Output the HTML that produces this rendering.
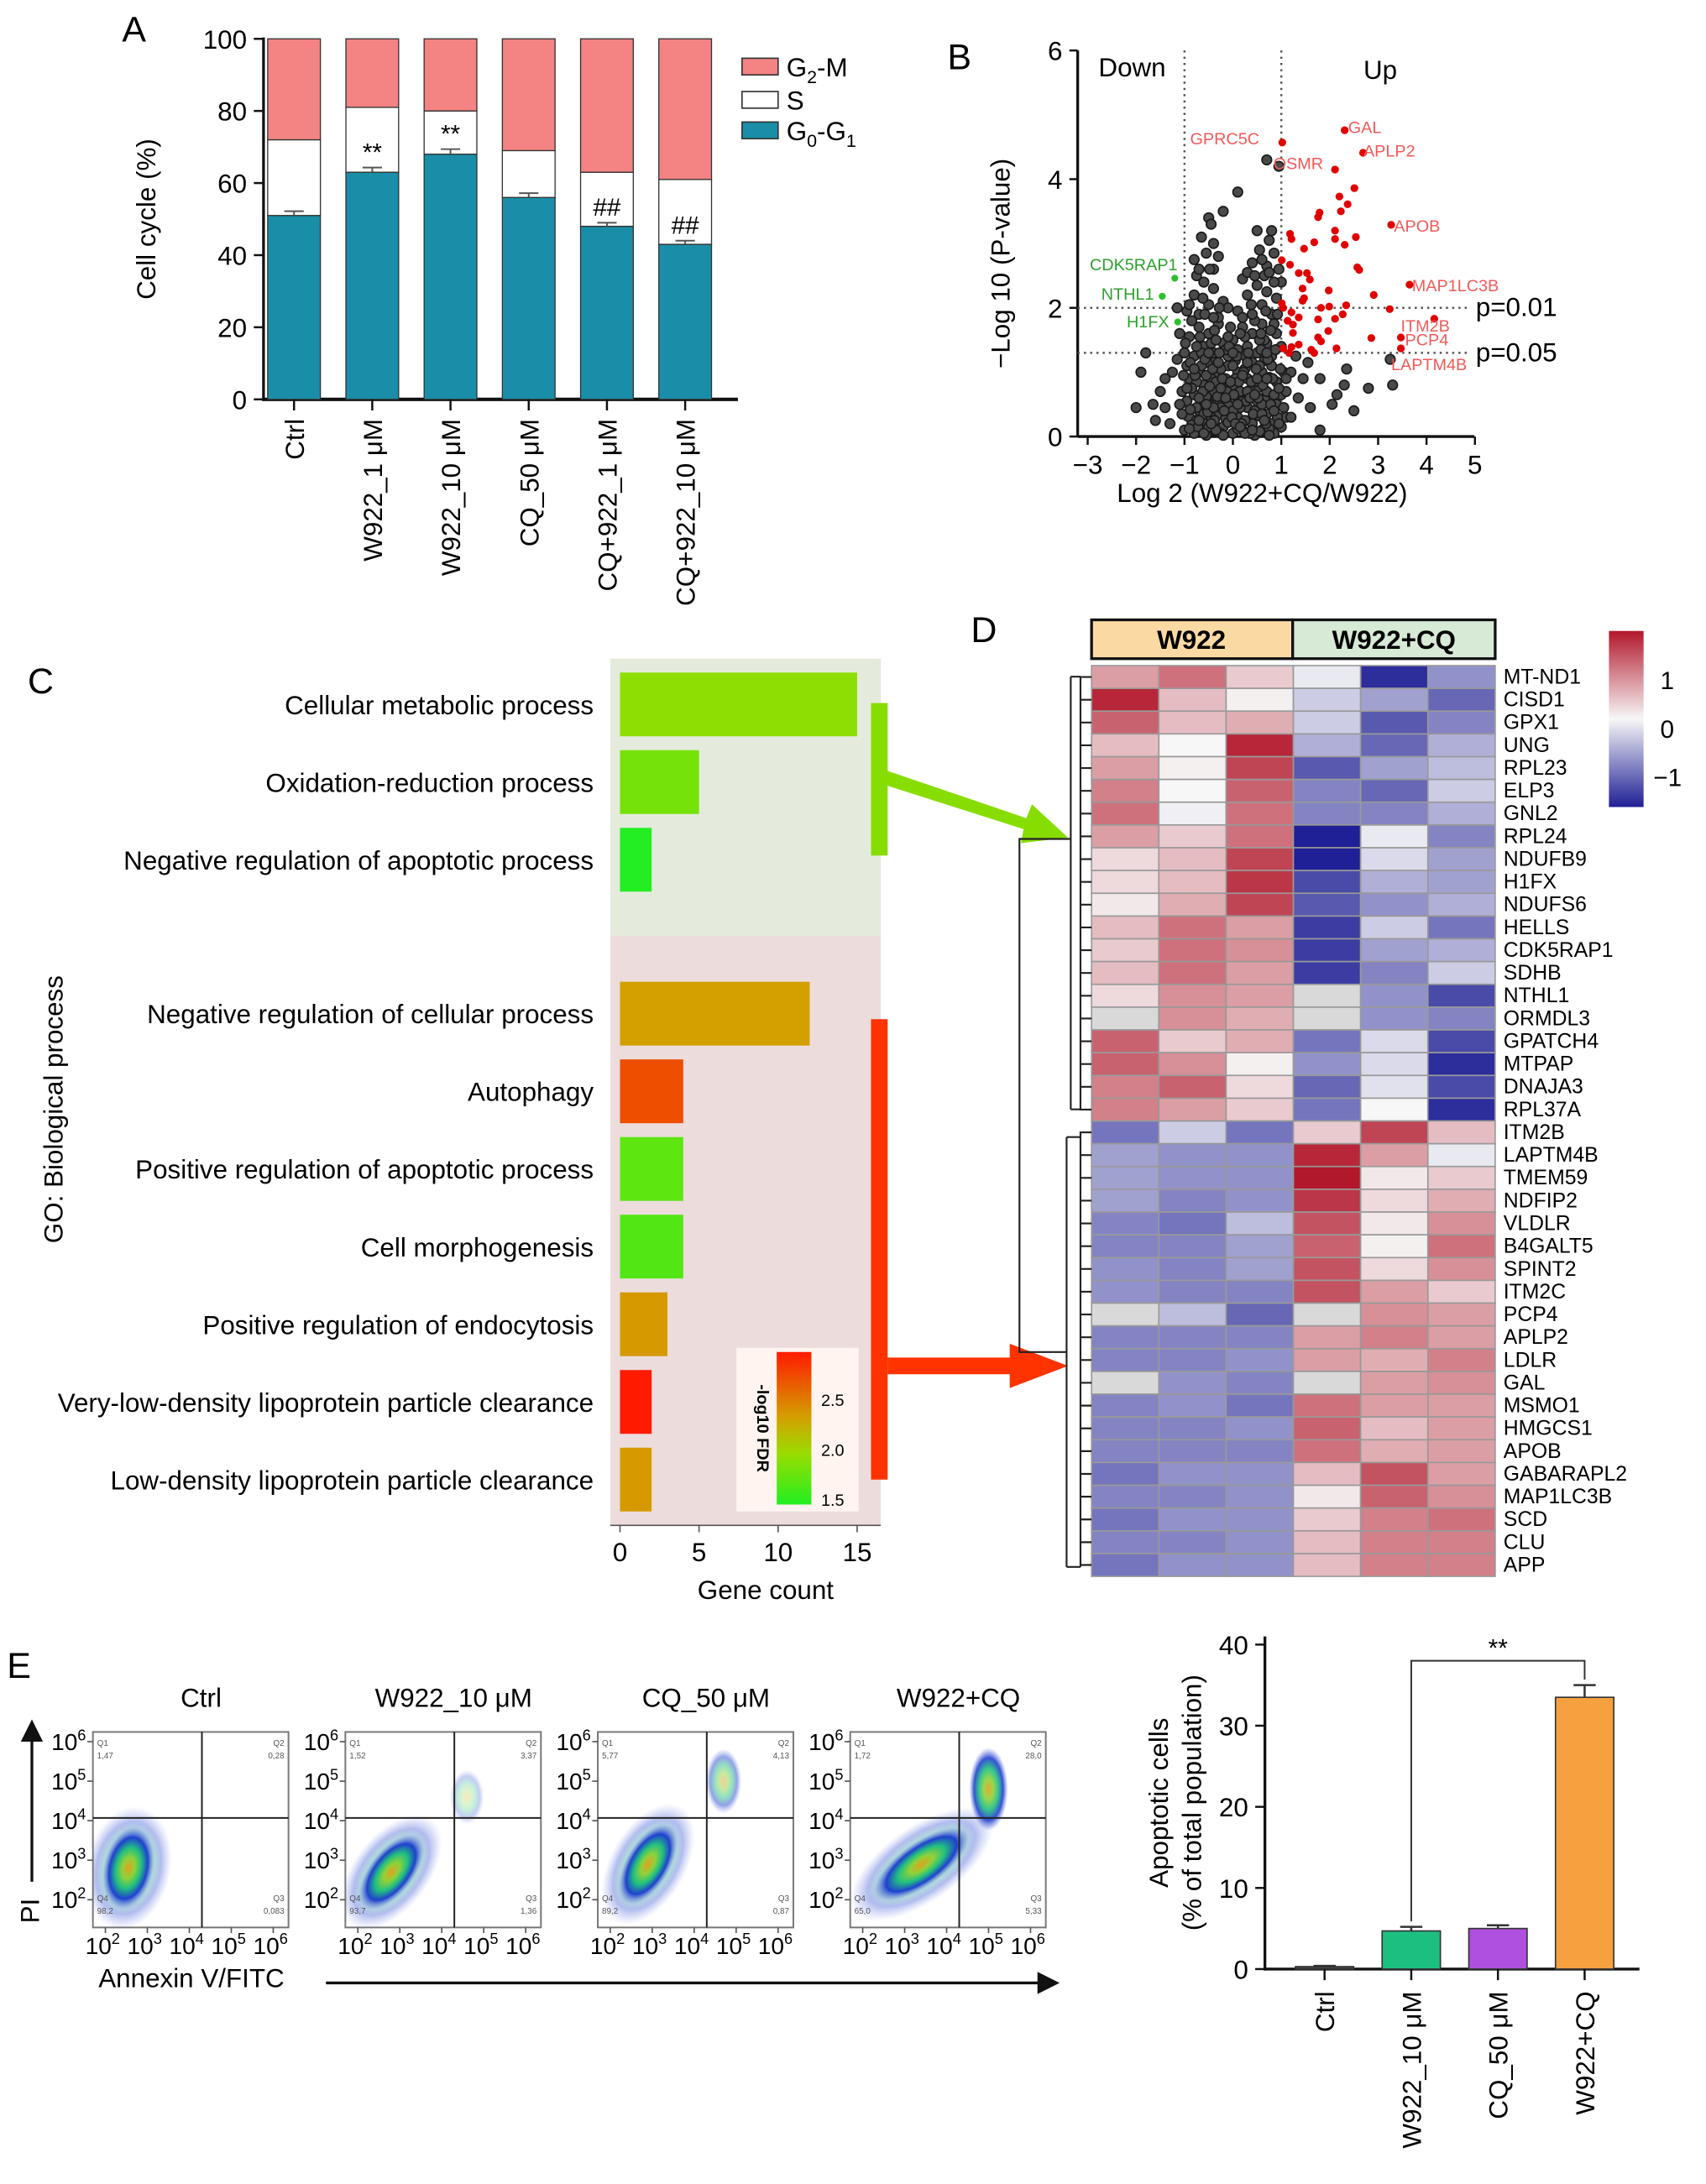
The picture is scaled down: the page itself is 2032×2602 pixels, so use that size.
<!DOCTYPE html>
<html><head><meta charset="utf-8"><style>
html,body{margin:0;padding:0;background:#fff;}
svg{display:block;font-family:"Liberation Sans",Arial,sans-serif;}
</style></head><body>
<svg id="fig" width="2032" height="2602" viewBox="0 0 1230 1575" preserveAspectRatio="none" xmlns="http://www.w3.org/2000/svg">
<defs>
<linearGradient id="fdr" x1="0" y1="1" x2="0" y2="0"><stop offset="0" stop-color="#22ee22"/><stop offset="0.33" stop-color="#99dd00"/><stop offset="0.57" stop-color="#d4a000"/><stop offset="1" stop-color="#ff1a00"/></linearGradient>
<linearGradient id="hmbar" x1="0" y1="0" x2="0" y2="1"><stop offset="0" stop-color="#b2182b"/><stop offset="0.5" stop-color="#f7f7f7"/><stop offset="1" stop-color="#1f1f96"/></linearGradient>
<radialGradient id="dens"><stop offset="0" stop-color="#e0a020"/><stop offset="0.25" stop-color="#8fd23a"/><stop offset="0.5" stop-color="#20c080"/><stop offset="0.75" stop-color="#2040d0"/><stop offset="1" stop-color="#6070e0" stop-opacity="0"/></radialGradient>
<marker id="ah" markerWidth="8" markerHeight="8" refX="6" refY="4" orient="auto"><path d="M0,0 L8,4 L0,8 z" fill="#111"/></marker>
</defs>
<g id="root"></g>
</svg>
<script>
// ---------- DATA ----------
const cycleGroups=["Ctrl","W922_1 μM","W922_10 μM","CQ_50 μM","CQ+922_1 μM","CQ+922_10 μM"];
const g0g1=[51,63,68,56,48,43];
const sTop=[72,81,80,69,63,61];
const g0g1Err=[1.2,1.3,1.4,1.2,1.0,1.0];
const cycleMarks=["","**","**","","##","##"];

const greyPts=[[-1,0.1],[-0.9,0.3],[-0.8,0.05],[-0.7,0.4],[-0.6,0.2],[-0.5,0.5],[-0.4,0.1],[-0.3,0.35],[-0.2,0.15],[-0.1,0.5],[0,0.05],[0.1,0.3],[0.2,0.1],[0.3,0.45],[0.4,0.2],[0.5,0.55],[0.6,0.1],[0.7,0.35],[0.8,0.2],[0.9,0.5],[1.0,0.15],[1.1,0.3],
[-0.95,0.55],[-0.75,0.25],[-0.55,0.02],[-0.35,0.6],[-0.15,0.28],[0.05,0.58],[0.25,0.25],[0.45,0.02],[0.65,0.6],[0.85,0.05],[-0.65,0.55],[-0.45,0.3],[-0.25,0.05],[0.15,0.45],[0.35,0.05],[0.55,0.32],[0.75,0.12],[-0.85,0.18],
[-1.05,0.7],[-0.9,0.9],[-0.8,0.65],[-0.7,1.0],[-0.6,0.8],[-0.5,1.15],[-0.4,0.7],[-0.3,0.95],[-0.2,0.75],[-0.1,1.1],[0,0.8],[0.1,1.0],[0.2,0.65],[0.3,0.9],[0.4,1.15],[0.5,0.75],[0.6,1.0],[0.7,0.7],[0.8,1.1],[0.9,0.85],[1.0,0.65],[1.05,1.0],
[-0.95,1.1],[-0.75,0.85],[-0.55,0.62],[-0.35,1.2],[-0.15,0.9],[0.05,1.18],[0.25,1.05],[0.45,0.85],[0.65,1.18],[0.85,0.65],[-0.65,1.1],[-0.45,0.9],[-0.25,1.05],[0.15,0.7],[0.35,0.72],[0.55,1.1],[0.75,0.92],[-0.85,0.75],
[-1.0,1.3],[-0.9,1.55],[-0.8,1.25],[-0.7,1.7],[-0.6,1.4],[-0.5,1.6],[-0.4,1.3],[-0.3,1.75],[-0.2,1.45],[-0.1,1.25],[0,1.5],[0.1,1.35],[0.2,1.7],[0.3,1.4],[0.4,1.6],[0.5,1.3],[0.6,1.75],[0.7,1.45],[0.8,1.25],[0.9,1.6],[1.0,1.4],[-0.85,1.8],[-0.65,1.3],[-0.45,1.45],[0.45,1.8],[0.65,1.5],[0.85,1.75],[-0.05,1.7],[0.25,1.55],[-0.35,1.5],
[-0.95,1.95],[-0.8,2.2],[-0.7,1.9],[-0.6,2.4],[-0.5,2.05],[-0.4,2.3],[-0.3,1.85],[-0.2,2.1],[0.1,1.95],[0.3,2.2],[0.4,1.9],[0.5,2.35],[0.6,2.05],[0.7,2.25],[0.8,1.9],[0.9,2.15],[1.0,2.4],[-0.75,2.5],[0.65,2.5],[-0.1,2.0],[0.2,2.45],[0.85,2.4],
[-0.7,2.6],[-0.55,2.85],[-0.4,2.6],[-0.65,3.1],[-0.4,3.0],[0.4,2.7],[0.55,2.9],[0.7,2.65],[0.85,2.85],[0.5,3.2],[0.8,3.2],[0.3,2.55],[-0.3,2.8],[0.95,2.6],[0.75,3.05],[-0.8,2.75],
[-0.5,3.4],[-0.2,3.5],[0.1,3.8],[0.7,4.3],[0.95,4.2],[-0.45,3.3],
[-1.8,1.3],[-1.9,1.0],[-2.0,0.45],[-1.65,0.5],[-1.4,0.45],[-1.3,0.2],[-1.5,0.7],[-1.25,1.0],[-1.1,1.6],[-1.15,2.0],[-1.4,0.9],[-1.6,0.25],
[1.2,1.0],[1.45,0.9],[1.8,0.9],[2.05,0.5],[2.3,0.8],[2.35,1.05],[2.5,0.4],[1.6,0.45],[2.8,0.75],[3.25,1.2],[3.3,0.8],[1.8,0.1],[2.15,0.65],[1.35,0.6],[1.1,0.7],[1.2,0.3],[1.55,1.15],[1.3,1.25],
[-0.6,0.35],[-0.3,0.55],[0.0,0.4],[0.2,0.55],[-0.1,0.22],[-0.5,0.15],[0.45,0.4],[-0.2,0.62],[0.1,0.12],[-0.75,0.45],[0.3,0.7],[-0.35,0.85],[0.05,0.9],[0.6,0.5],[-0.55,0.95],[0.25,1.25],[-0.15,1.35],[0.55,1.5],[0.0,1.1],[-0.25,0.45],
[-1.05,0.35],[-0.95,0.75],[-0.88,0.42],[-0.78,0.95],[-0.72,0.15],[-0.62,0.7],[-0.58,1.2],[-0.52,0.38],[-0.48,0.78],[-0.42,1.05],[-0.38,0.25],[-0.32,0.62],[-0.28,1.3],[-0.22,0.9],[-0.18,0.4],[-0.12,0.7],[-0.08,1.4],[-0.02,0.3],[0.02,0.65],[0.08,1.25],[0.12,0.85],[0.18,0.2],[0.22,1.0],[0.28,0.55],[0.32,1.3],[0.38,0.85],[0.42,0.35],[0.48,1.05],[0.52,0.6],[0.58,1.35],[0.62,0.8],[0.68,0.2],[0.72,1.2],[0.78,0.5],[0.82,0.9],[0.88,1.35],[0.92,0.3],[0.98,1.05],[-0.98,1.45],[-0.88,1.15],[-0.68,1.55],[-0.58,1.9],[-0.38,1.65],[-0.28,2.0],[0.38,2.05],[0.58,1.6],[0.78,1.65],[0.92,1.9],[0.68,1.95],[-0.9,2.05],[-0.62,2.15],[0.75,2.55],[-0.48,2.6],[0.6,2.75],[-1.1,0.5],[-1.15,1.2],[-0.7,0.25],[-0.4,0.45],[-0.15,0.6],[0.1,0.5],[0.35,0.6],[0.6,0.35],[0.85,0.4],[-0.55,0.5],[-0.05,0.85],[0.2,0.95],[0.45,0.65],[0.7,0.9],[-0.8,1.05],[-0.3,1.15],[0.0,1.3],[0.3,1.15],[-0.6,0.05],[-0.2,0.02],[0.25,0.05],[0.55,0.08],[0.95,0.2],[-0.35,0.1],[0.05,0.2],[0.4,0.1],[-0.9,0.12],[0.75,0.02],[-0.45,0.2],[0.15,0.15],[0.65,0.25],[-0.7,0.6],[-0.25,0.75],[0.5,0.9],[-0.1,1.55],[0.15,1.6],[0.7,1.3],[-0.75,1.4],[-0.5,1.3],[0.95,0.75],[1.05,0.45],[1.1,0.9],[-1.02,0.95],[-0.4,1.85],[0.2,1.85],[0.45,2.5]];
const redPts=[[1.02,4.57],[2.31,4.76],[2.69,4.41],[2.11,4.15],[2.51,3.86],[2.20,3.73],[2.37,3.61],[1.79,3.48],[2.23,3.50],[1.76,3.41],[3.27,3.29],[1.18,3.15],[2.11,3.20],[2.11,3.07],[2.54,3.10],[1.21,3.07],[1.68,3.02],[2.31,2.98],[1.47,2.92],[1.01,2.74],[1.18,2.67],[2.57,2.63],[2.61,2.59],[1.36,2.54],[1.53,2.54],[1.59,2.44],[3.65,2.36],[1.44,2.30],[1.98,2.27],[2.91,2.20],[1.47,2.15],[1.44,2.11],[1.01,2.07],[1.04,2.0],[1.82,2.0],[1.99,2.02],[2.34,2.04],[3.24,1.98],[1.21,1.93],[1.36,1.85],[1.13,1.80],[1.76,1.82],[2.11,1.83],[2.27,1.90],[4.16,1.83],[1.24,1.74],[1.97,1.64],[1.24,1.61],[3.47,1.54],[2.86,1.53],[1.76,1.54],[1.82,1.48],[1.04,1.37],[1.21,1.39],[1.36,1.43],[1.62,1.35],[2.14,1.37],[3.47,1.37],[1.16,1.30],[1.68,1.30]];
const greenPts=[[-1.2,2.46],[-1.46,2.18],[-1.14,1.78]];
const redLabels=["GPRC5C","GAL","APLP2","OSMR","APOB","MAP1LC3B","ITM2B","PCP4","LAPTM4B"];
const greenLabels=["CDK5RAP1","NTHL1","H1FX"];

const goTerms=["Cellular metabolic process","Oxidation-reduction process","Negative regulation of apoptotic process","Negative regulation of cellular process","Autophagy","Positive regulation of apoptotic process","Cell morphogenesis","Positive regulation of endocytosis","Very-low-density lipoprotein particle clearance","Low-density lipoprotein particle clearance"];
const goCounts=[15,5,2,12,4,4,4,3,2,2];
const goFDR=[1.95,1.85,1.5,2.35,2.75,1.75,1.7,2.38,3.0,2.38];

const hmGenes=["MT-ND1","CISD1","GPX1","UNG","RPL23","ELP3","GNL2","RPL24","NDUFB9","H1FX","NDUFS6","HELLS","CDK5RAP1","SDHB","NTHL1","ORMDL3","GPATCH4","MTPAP","DNAJA3","RPL37A","ITM2B","LAPTM4B","TMEM59","NDFIP2","VLDLR","B4GALT5","SPINT2","ITM2C","PCP4","APLP2","LDLR","GAL","MSMO1","HMGCS1","APOB","GABARAPL2","MAP1LC3B","SCD","CLU","APP"];
const hmValues=[[0.6,0.9,0.3,-0.1,-1.4,-0.7],[1.4,0.4,0.05,-0.3,-0.6,-1.0],[1.0,0.4,0.5,-0.3,-1.1,-0.8],[0.4,0.0,1.4,-0.5,-1.0,-0.5],[0.6,0.05,1.2,-1.1,-0.6,-0.4],[0.8,0.0,1.0,-0.8,-1.0,-0.3],[0.9,-0.05,0.9,-0.8,-0.8,-0.5],[0.6,0.3,0.9,-1.5,-0.1,-0.8],[0.2,0.4,1.2,-1.5,-0.2,-0.6],[0.2,0.4,1.3,-1.2,-0.5,-0.6],[0.1,0.5,1.2,-1.1,-0.7,-0.5],[0.4,0.9,0.6,-1.3,-0.3,-0.9],[0.3,0.9,0.7,-1.3,-0.6,-0.5],[0.4,0.9,0.6,-1.3,-0.8,-0.3],[0.2,0.7,0.6,null,-0.7,-1.2],[null,0.7,0.5,null,-0.7,-0.8],[1.0,0.3,0.5,-0.9,-0.2,-1.2],[1.0,0.7,0.05,-0.7,-0.2,-1.4],[0.8,1.0,0.2,-1.0,-0.15,-1.2],[0.8,0.6,0.3,-0.9,0.0,-1.4],
[-0.9,-0.3,-0.9,0.3,1.2,0.4],[-0.6,-0.7,-0.7,1.4,0.6,-0.1],[-0.6,-0.7,-0.7,1.5,0.1,0.3],[-0.6,-0.8,-0.7,1.3,0.2,0.5],[-0.8,-0.9,-0.4,1.1,0.1,0.7],[-0.8,-0.8,-0.6,1.0,0.05,0.9],[-0.7,-0.8,-0.6,1.1,0.2,0.7],[-0.7,-0.8,-0.8,1.1,0.6,0.3],[null,-0.4,-1.0,null,0.7,0.6],[-0.8,-0.8,-0.8,0.6,0.8,0.6],[-0.8,-0.8,-0.7,0.6,0.5,0.8],[null,-0.7,-0.8,null,0.6,0.7],[-0.8,-0.7,-0.9,0.9,0.6,0.6],[-0.8,-0.8,-0.7,1.0,0.4,0.6],[-0.8,-0.8,-0.8,0.9,0.5,0.6],[-0.9,-0.7,-0.7,0.4,1.1,0.6],[-0.8,-0.8,-0.7,0.1,1.0,0.7],[-0.9,-0.7,-0.7,0.3,0.8,0.9],[-0.8,-0.8,-0.7,0.4,0.8,0.8],[-0.9,-0.7,-0.7,0.4,0.8,0.8]];

const flowTitles=["Ctrl","W922_10 μM","CQ_50 μM","W922+CQ"];
const flowQ1=["1,47","1,52","5,77","1,72"];
const flowQ2=["0,28","3,37","4,13","28,0"];
const flowQ3=["0,083","1,36","0,87","5,33"];
const flowQ4=["98,2","93,7","89,2","65,0"];
const flowMainX=[2.55,2.8,2.9,3.4];
const flowMainY=[2.8,2.7,2.9,2.9];
const flowSecX=[4.0,4.6,4.7,5.0];
const flowSecY=[4.3,4.6,5.0,4.8];
const flowSecSize=[0.0,0.15,0.45,1.0];

const apoGroups=["Ctrl","W922_10 μM","CQ_50 μM","W922+CQ"];
const apoValues=[0.3,4.7,5.0,33.5];
const apoErr=[0.1,0.5,0.4,1.5];
const apoTicks=[0,10,20,30,40];

// ---------- HELPERS ----------
const NS="http://www.w3.org/2000/svg";
const root=document.getElementById('root');
function mk(tag,attrs,parent,text){const e=document.createElementNS(NS,tag);for(const k in attrs)e.setAttribute(k,attrs[k]);if(text!==undefined)e.textContent=text;(parent||root).appendChild(e);return e;}
function grp(name){const g=mk('g',{});


return g;}

// ---------- PANEL A ----------
(function(){
const g=grp('panel-a-cell-cycle-chart');
const y=v=>288-v*2.6, x0=212, dx=56.4, bw=38;
mk('text',{x:88,y:30,'font-size':26},g,'A');
mk('line',{x1:190,y1:27,x2:190,y2:289,stroke:'#111','stroke-width':2},g);
mk('line',{x1:189,y1:288,x2:532,y2:288,stroke:'#111','stroke-width':2.5},g);
[0,20,40,60,80,100].forEach(t=>{mk('line',{x1:183,y1:y(t),x2:190,y2:y(t),stroke:'#111','stroke-width':1.5},g);
 mk('text',{x:178,y:y(t)+7,'font-size':19,'text-anchor':'end'},g,String(t));});
const yt=mk('text',{x:112,y:158,'font-size':19,'text-anchor':'middle',transform:'rotate(-90 112 158)'},g,'Cell cycle (%)');

cycleGroups.forEach((c,i)=>{const cx=x0+i*dx;
 const b1=mk('rect',{x:cx-bw/2,y:y(g0g1[i]),width:bw,height:y(0)-y(g0g1[i]),fill:'#1a8ea8',stroke:'#333','stroke-width':0.8},g);
 
 const b2=mk('rect',{x:cx-bw/2,y:y(sTop[i]),width:bw,height:y(g0g1[i])-y(sTop[i]),fill:'#fff',stroke:'#333','stroke-width':0.8},g);
 
 const b3=mk('rect',{x:cx-bw/2,y:y(100),width:bw,height:y(sTop[i])-y(100),fill:'#f48383',stroke:'#333','stroke-width':0.8},g);
 
 const ey=y(g0g1[i]+g0g1Err[i]);
 mk('line',{x1:cx,y1:y(g0g1[i]),x2:cx,y2:ey,stroke:'#555','stroke-width':1.2},g);
 mk('line',{x1:cx-7,y1:ey,x2:cx+7,y2:ey,stroke:'#555','stroke-width':1.2},g);
 if(cycleMarks[i])mk('text',{x:cx,y:ey-5,'font-size':18,'text-anchor':'middle'},g,cycleMarks[i]);
 mk('line',{x1:cx,y1:288,x2:cx,y2:296,stroke:'#111','stroke-width':1.5},g);
 const t=mk('text',{x:cx+7,y:302,'font-size':19,'text-anchor':'end',transform:`rotate(-90 ${cx+7} 302)`},g,c);
 
});
const leg=[['#f48383','G','2','-M',42],['#fff','S','','',66],['#1a8ea8','G','0','-G',88]];
leg.forEach((l,i)=>{mk('rect',{x:535,y:l[4],width:26,height:12,fill:l[0],stroke:'#333','stroke-width':1},g);
 const t=mk('text',{x:567,y:l[4]+13,'font-size':19},g);
 
 mk('tspan',{},t,l[1]);
 if(l[2])mk('tspan',{'font-size':13,dy:5},t,l[2]);
 if(l[3])mk('tspan',{dy:-5},t,l[3]);
 if(i==2){mk('tspan',{'font-size':13,dy:5},t,'1');}
});
})();

// ---------- PANEL B ----------
(function(){
const g=grp('panel-b-volcano-plot');
const x=v=>854+(v+1)*34.9, y=v=>314.8-v*46.4;
mk('text',{x:683,y:50,'font-size':26},g,'B');
mk('line',{x1:777,y1:y(0),x2:1063,y2:y(0),stroke:'#111','stroke-width':2},g);
mk('line',{x1:777,y1:y(6),x2:777,y2:y(0),stroke:'#111','stroke-width':2},g);
[0,2,4,6].forEach(t=>{mk('line',{x1:771,y1:y(t),x2:777,y2:y(t),stroke:'#111','stroke-width':1.5},g);
 mk('text',{x:766,y:y(t)+7,'font-size':19,'text-anchor':'end'},g,String(t));});
[-3,-2,-1,0,1,2,3,4,5].forEach(t=>{mk('line',{x1:x(t),y1:y(0),x2:x(t),y2:y(0)+6,stroke:'#111','stroke-width':1.5},g);
 mk('text',{x:x(t),y:y(0)+27,'font-size':19,'text-anchor':'middle'},g,t<0?'−'+(-t):String(t));});
mk('text',{x:910,y:362,'font-size':19,'text-anchor':'middle'},g,'Log 2 (W922+CQ/W922)');
mk('text',{x:728,y:190,'font-size':19,'text-anchor':'middle',transform:'rotate(-90 728 190)'},g,'−Log 10 (P-value)');
mk('line',{x1:x(-1),y1:y(6),x2:x(-1),y2:y(0),stroke:'#555','stroke-width':1.5,'stroke-dasharray':'1.5 3'},g);
mk('line',{x1:x(1),y1:y(6),x2:x(1),y2:y(0),stroke:'#555','stroke-width':1.5,'stroke-dasharray':'1.5 3'},g);
mk('line',{x1:777,y1:y(2),x2:1060,y2:y(2),stroke:'#555','stroke-width':1.5,'stroke-dasharray':'1.5 3'},g);
mk('line',{x1:777,y1:y(1.3),x2:1060,y2:y(1.3),stroke:'#555','stroke-width':1.5,'stroke-dasharray':'1.5 3'},g);
mk('text',{x:1064,y:y(2)+6,'font-size':19},g,'p=0.01');
mk('text',{x:1064,y:y(1.3)+6,'font-size':19},g,'p=0.05');
mk('text',{x:792,y:55,'font-size':19},g,'Down');
mk('text',{x:983,y:57,'font-size':19},g,'Up');
greyPts.forEach(p=>{const c=mk('circle',{cx:x(p[0]),cy:y(p[1]),r:3.5,fill:'#4a4a4a',stroke:'#1a1a1a','stroke-width':1},g);
 });
redPts.forEach(p=>{const c=mk('circle',{cx:x(p[0]),cy:y(p[1]),r:2.8,fill:'#e00000'},g);
 });
greenPts.forEach(p=>{const c=mk('circle',{cx:x(p[0]),cy:y(p[1]),r:2.5,fill:'#2cc02c'},g);
 });
const rl=[[908,104,'end'],[972,96,'start'],[983,113,'start'],[918,122,'start'],[1005,167,'start'],[1018,210,'start'],[1010,239,'start'],[1013,249,'start'],[1003,267,'start']];
redLabels.forEach((l,i)=>mk('text',{x:rl[i][0],y:rl[i][1],'font-size':12,fill:'#f05a5a','text-anchor':rl[i][2]},g,l));
const gl=[[849,195],[832,216],[843,236]];
greenLabels.forEach((l,i)=>mk('text',{x:gl[i][0],y:gl[i][1],'font-size':12,fill:'#2ca02c','text-anchor':'end'},g,l));
})();

// ---------- PANEL C ----------
(function(){
const g=grp('panel-c-go-bar-chart');
const x=v=>447+v*11.4, rowY=[508,564,620,731,787,843,899,955,1011,1067];
mk('text',{x:20,y:500,'font-size':26},g,'C');
mk('rect',{x:440,y:475,width:195,height:200,fill:'#e4ebdc'},g);
mk('rect',{x:440,y:675,width:195,height:425,fill:'#ecdcdc'},g);
const stopV=[1.5,2.0,2.35,3.0], stopC=[[34,238,34],[153,221,0],[212,160,0],[255,26,0]];
function fdrColor(v){v=Math.max(1.5,Math.min(3,v));let s=0;while(s<2&&v>stopV[s+1])s++;
 const f=(v-stopV[s])/(stopV[s+1]-stopV[s]);const a=stopC[s],b=stopC[s+1];
 return `rgb(${Math.round(a[0]+(b[0]-a[0])*f)},${Math.round(a[1]+(b[1]-a[1])*f)},${Math.round(a[2]+(b[2]-a[2])*f)})`;}
goTerms.forEach((t,i)=>{const r=mk('rect',{x:x(0),y:rowY[i]-23,width:x(goCounts[i])-x(0),height:46,fill:fdrColor(goFDR[i])},g);
 
 mk('text',{x:428,y:rowY[i]+7,'font-size':19,'text-anchor':'end'},g,t);});
mk('line',{x1:440,y1:1100,x2:635,y2:1100,stroke:'#555','stroke-width':1},g);
[0,5,10,15].forEach(t=>{mk('line',{x1:x(t),y1:1100,x2:x(t),y2:1105,stroke:'#555'},g);
 mk('text',{x:x(t),y:1126,'font-size':19,'text-anchor':'middle'},g,String(t));});
mk('text',{x:552,y:1153,'font-size':19,'text-anchor':'middle'},g,'Gene count');
mk('text',{x:45,y:800,'font-size':19,'text-anchor':'middle',transform:'rotate(-90 45 800)'},g,'GO: Biological process');
mk('rect',{x:531,y:972,width:88,height:118,fill:'#fff4ef'},g);
mk('rect',{x:560,y:975,width:25,height:110,fill:'url(#fdr)'},g);
[[2.5,1010],[2.0,1046],[1.5,1082]].forEach(l=>mk('text',{x:592,y:l[1]+4,'font-size':12},g,l[0].toFixed(1)));
mk('text',{x:546,y:1030,'font-size':12,'font-weight':'bold','text-anchor':'middle',transform:'rotate(90 546 1030)'},g,'-log10 FDR');
mk('rect',{x:628,y:507,width:12,height:110,fill:'#88dd00'},g);
mk('path',{d:'M640,556 L740,590 L744,580 L770,604 L736,608 L738,598 L638,566 Z',fill:'#88dd00'},g);
mk('rect',{x:628,y:735,width:12,height:332,fill:'#ff3300'},g);
mk('path',{d:'M640,979 L728,979 L728,969 L770,985 L728,1001 L728,991 L640,991 Z',fill:'#ff3300'},g);
})();

// ---------- PANEL D ----------
(function(){
const g=grp('panel-d-heatmap');
const x0=787,cw=48.5,y0=480,rh=16.42;
mk('text',{x:700,y:463,'font-size':26},g,'D');
mk('rect',{x:787,y:447,width:145,height:28,fill:'#fbd9a3',stroke:'#111','stroke-width':2},g);
mk('rect',{x:932,y:447,width:146,height:28,fill:'#d6ead6',stroke:'#111','stroke-width':2},g);
mk('text',{x:859,y:468,'font-size':19,'font-weight':'bold','text-anchor':'middle'},g,'W922');
mk('text',{x:1005,y:468,'font-size':19,'font-weight':'bold','text-anchor':'middle'},g,'W922+CQ');
function col(v){if(v===null)return '#d9d9d9';const t=Math.min(1,Math.abs(v)/1.5);const w=[247,247,247];const e=v>0?[178,24,43]:[31,31,150];
 return `rgb(${Math.round(w[0]+(e[0]-w[0])*t)},${Math.round(w[1]+(e[1]-w[1])*t)},${Math.round(w[2]+(e[2]-w[2])*t)})`;}
hmValues.forEach((row,r)=>{row.forEach((v,c)=>{const cell=mk('rect',{x:x0+c*cw,y:y0+r*rh,width:cw,height:rh,fill:col(v),stroke:'#999','stroke-width':1},g);
 });
 mk('text',{x:1084,y:y0+r*rh+13,'font-size':15},g,hmGenes[r]);});
let d='';for(let r=0;r<40;r+=2){const a=y0+r*rh+rh/2,b=a+rh;d+=`M787,${a}H779V${b}H787`;}
d+='M779,488V800M779,820V1130M772,488H779M772,800H779M772,488V800M769,820H779M769,1130H779M769,820V1130M772,605H735V975H769';
mk('path',{d:d,fill:'none',stroke:'#222','stroke-width':1.3},g);
mk('rect',{x:1160,y:455,width:25,height:127,fill:'url(#hmbar)'},g);
mk('text',{x:1197,y:497,'font-size':18},g,'1');
mk('text',{x:1197,y:532,'font-size':18},g,'0');
mk('text',{x:1192,y:567,'font-size':18},g,'−1');
})();

// ---------- PANEL E FLOW ----------
(function(){
const g=grp('panel-e-flow-plots');
mk('text',{x:5,y:1210,'font-size':26},g,'E');
mk('line',{x1:23,y1:1357,x2:23,y2:1244,stroke:'#111','stroke-width':2,'marker-end':'url(#ah)'},g);
mk('text',{x:28,y:1378,'font-size':19,'text-anchor':'middle',transform:'rotate(-90 28 1378)'},g,'PI');
mk('text',{x:138,y:1433,'font-size':19,'text-anchor':'middle'},g,'Annexin V/FITC');
mk('line',{x1:235,y1:1430,x2:760,y2:1430,stroke:'#111','stroke-width':2,'marker-end':'url(#ah)'},g);
flowTitles.forEach((t,i)=>{const L=67+i*182,T=1249,W=141,H=141;
 const X=v=>L+9+(v-2)*30.25, Y=v=>1370-(v-2)*28.5;
 mk('text',{x:L+78,y:1231,'font-size':19,'text-anchor':'middle'},g,t);
 const cl=mk('clipPath',{id:'fc'+i},g);mk('rect',{x:L,y:T,width:W,height:H},cl);
 const pg=mk('g',{'clip-path':`url(#fc${i})`},g);
 const mx=X(flowMainX[i]),my=Y(flowMainY[i]);
 const ang=i==0?-78:(i==1?-52:(i==2?-60:-35));
 const rx=i==0?30:(i==3?40:32), ry=i==0?18:16;
 mk('ellipse',{cx:mx,cy:my,rx:rx*1.5,ry:ry*1.7,fill:'url(#dens)',opacity:0.35,transform:`rotate(${ang} ${mx} ${my})`},pg);
 const e=mk('ellipse',{cx:mx,cy:my,rx:rx,ry:ry,fill:'url(#dens)',transform:`rotate(${ang} ${mx} ${my})`},pg);
 
 if(flowSecSize[i]>0){const sx=X(flowSecX[i]),sy=Y(flowSecY[i]);
  mk('ellipse',{cx:sx,cy:sy,rx:12+flowSecSize[i]*2,ry:18+flowSecSize[i]*12,fill:'url(#dens)',opacity:0.15+flowSecSize[i]*0.75},pg);}
 mk('rect',{x:L,y:T,width:W,height:H,fill:'none',stroke:'#777','stroke-width':1.2},g);
 mk('line',{x1:X(4.3),y1:T,x2:X(4.3),y2:T+H,stroke:'#222','stroke-width':1.2},g);
 mk('line',{x1:L,y1:Y(4.07),x2:L+W,y2:Y(4.07),stroke:'#222','stroke-width':1.2},g);
 mk('text',{x:L+3,y:T+10,'font-size':6,fill:'#555'},g,'Q1');mk('text',{x:L+3,y:T+19,'font-size':6,fill:'#555'},g,flowQ1[i]);
 mk('text',{x:L+W-3,y:T+10,'font-size':6,fill:'#555','text-anchor':'end'},g,'Q2');mk('text',{x:L+W-3,y:T+19,'font-size':6,fill:'#555','text-anchor':'end'},g,flowQ2[i]);
 mk('text',{x:L+W-3,y:T+H-19,'font-size':6,fill:'#555','text-anchor':'end'},g,'Q3');mk('text',{x:L+W-3,y:T+H-10,'font-size':6,fill:'#555','text-anchor':'end'},g,flowQ3[i]);
 mk('text',{x:L+3,y:T+H-19,'font-size':6,fill:'#555'},g,'Q4');mk('text',{x:L+3,y:T+H-10,'font-size':6,fill:'#555'},g,flowQ4[i]);
 [2,3,4,5,6].forEach(k=>{
  const tx=mk('text',{x:X(k)-2,y:1409,'font-size':17,'text-anchor':'middle'},g);mk('tspan',{},tx,'10');mk('tspan',{'font-size':11,dy:-7},tx,String(k));
  const ty=mk('text',{x:L-5,y:Y(k)+6,'font-size':17,'text-anchor':'end'},g);mk('tspan',{},ty,'10');mk('tspan',{'font-size':11,dy:-7},ty,String(k));
  mk('line',{x1:X(k),y1:T+H,x2:X(k),y2:T+H+4,stroke:'#555'},g);mk('line',{x1:L-4,y1:Y(k),x2:L,y2:Y(k),stroke:'#555'},g);
 });
});
})();

// ---------- PANEL E BAR ----------
(function(){
const g=grp('panel-e-apoptosis-bar-chart');
const y=v=>1420-v*5.85, x0=955, dx=62.5, bw=42;
const cols=['#444','#1dbf7f','#b050e0','#f7a040'];
mk('line',{x1:912,y1:y(41),x2:912,y2:1421,stroke:'#111','stroke-width':2},g);
mk('line',{x1:911,y1:1420,x2:1182,y2:1420,stroke:'#111','stroke-width':2},g);
apoTicks.forEach(t=>{mk('line',{x1:905,y1:y(t),x2:912,y2:y(t),stroke:'#111','stroke-width':1.5},g);
 mk('text',{x:900,y:y(t)+7,'font-size':19,'text-anchor':'end'},g,String(t));});
mk('text',{x:842,y:1300,'font-size':19,'text-anchor':'middle',transform:'rotate(-90 842 1300)'},g,'Apoptotic cells');
mk('text',{x:866,y:1300,'font-size':19,'text-anchor':'middle',transform:'rotate(-90 866 1300)'},g,'(% of total population)');
apoGroups.forEach((c,i)=>{const cx=x0+i*dx;
 const b=mk('rect',{x:cx-bw/2,y:y(apoValues[i]),width:bw,height:y(0)-y(apoValues[i]),fill:cols[i],stroke:'#333','stroke-width':1},g);
 
 const ey=y(apoValues[i]+apoErr[i]);
 mk('line',{x1:cx,y1:y(apoValues[i]),x2:cx,y2:ey,stroke:'#333','stroke-width':1.5},g);
 mk('line',{x1:cx-8,y1:ey,x2:cx+8,y2:ey,stroke:'#333','stroke-width':1.5},g);
 mk('line',{x1:cx,y1:1420,x2:cx,y2:1428,stroke:'#111','stroke-width':1.5},g);
 mk('text',{x:cx+7,y:1436,'font-size':19,'text-anchor':'end',transform:`rotate(-90 ${cx+7} 1436)`},g,c);
});
const bx1=x0+dx,bx2=x0+3*dx, by=y(38);
mk('path',{d:`M${bx1},${y(apoValues[1]+apoErr[1])-4}V${by}H${bx2}V${y(apoValues[3]+apoErr[3])-4}`,fill:'none',stroke:'#333','stroke-width':1.2},g);
mk('text',{x:(bx1+bx2)/2,y:by-3,'font-size':18,'text-anchor':'middle'},g,'**');
})();
</script>
</body></html>
